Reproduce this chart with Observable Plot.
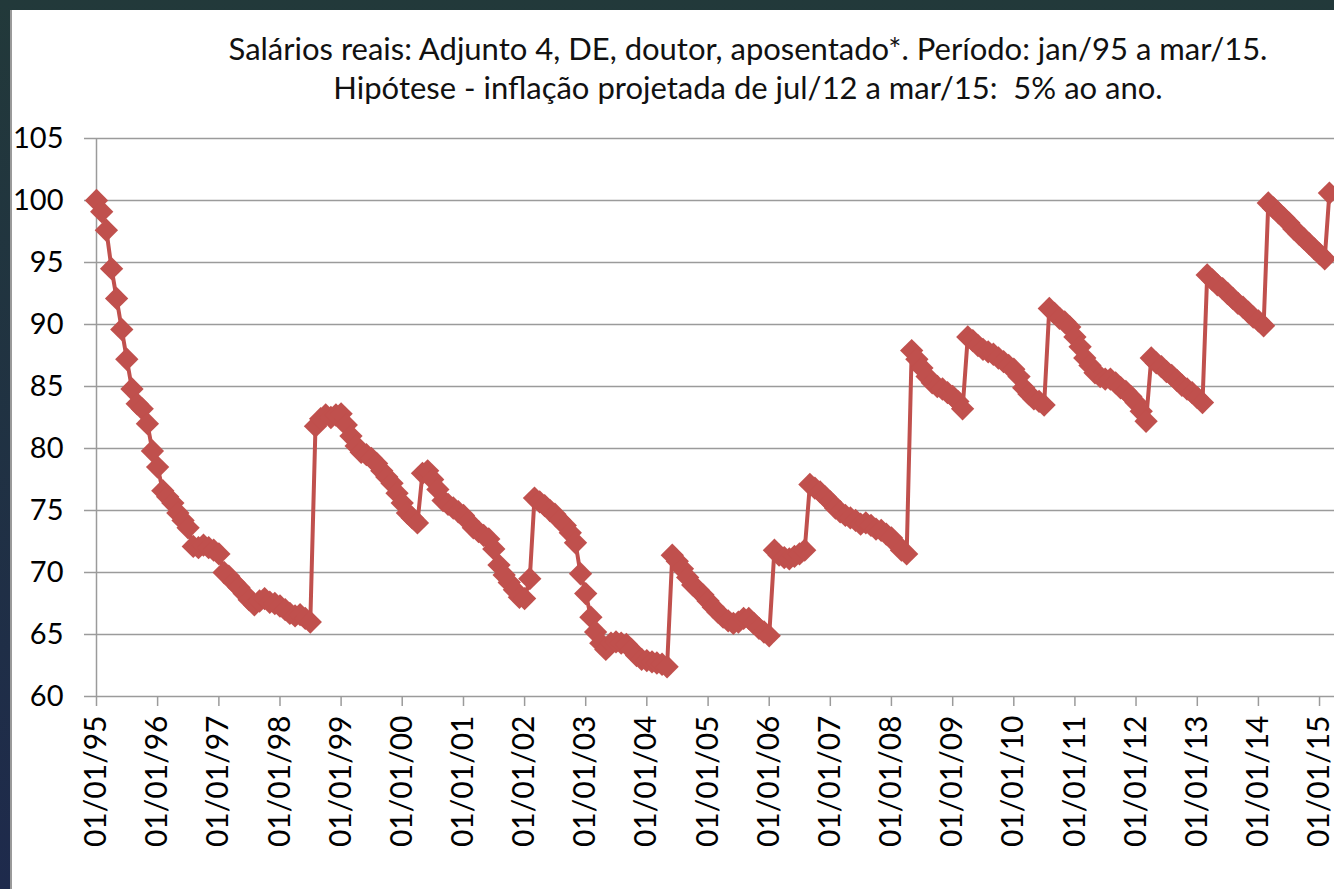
<!DOCTYPE html>
<html><head><meta charset="utf-8">
<script src="https://cdn.jsdelivr.net/npm/d3@7"></script>
<script src="https://cdn.jsdelivr.net/npm/@observablehq/plot@0.6"></script>
<style>
html,body{margin:0;padding:0;overflow:hidden;background:linear-gradient(#22393a,#1e2a4c);width:1334px;height:889px;}
#panel{position:fixed;left:10px;top:10px;right:-50px;bottom:-50px;background:#fff;border-left:2px solid #9a9a9a;}
.t{position:fixed;left:98px;width:1300px;text-align:center;font-family:Lato,"Open Sans",sans-serif;font-size:31px;line-height:39px;color:#111;white-space:pre;}
#chart{position:fixed;left:10px;top:110px;width:1400px;}
#chart svg{max-width:none !important;}
</style></head>
<body>
<div id="panel"></div>
<div class="t" style="top:29px">Salários reais: Adjunto 4, DE, doutor, aposentado*. Período: jan/95 a mar/15.</div>
<div class="t" style="top:68px">Hipótese - inflação projetada de jul/12 a mar/15:  5% ao ano.</div>
<div id="chart"></div>
<script>
// Monthly real-salary index, jan/95 .. mar/15 (jan/95 = 100)
const y1995 = [100.0, 99.1, 97.6, 94.5, 92.1, 89.6, 87.2, 84.8, 83.6, 83.2, 82.0, 79.8];
const y1996 = [78.5, 76.6, 76.1, 75.6, 74.8, 74.2, 73.6, 72.1, 72.0, 72.2, 72.0, 71.8];
const y1997 = [71.5, 70.0, 69.7, 69.2, 68.8, 68.3, 67.8, 67.4, 67.7, 67.9, 67.6, 67.5];
const y1998 = [67.3, 67.0, 66.7, 66.5, 66.6, 66.3, 66.0, 81.8, 82.4, 82.7, 82.5, 82.7];
const y1999 = [82.8, 81.9, 81.0, 80.2, 79.7, 79.5, 79.2, 78.8, 78.2, 77.7, 77.2, 76.4];
const y2000 = [75.6, 74.8, 74.4, 74.0, 78.0, 78.2, 77.5, 76.7, 75.8, 75.5, 75.2, 74.9];
const y2001 = [74.6, 74.1, 73.6, 73.3, 73.0, 72.7, 71.9, 70.6, 69.8, 69.2, 68.6, 68.0];
const y2002 = [67.9, 69.5, 76.0, 75.7, 75.4, 75.0, 74.7, 74.2, 73.8, 73.2, 72.4, 69.9];
const y2003 = [68.3, 66.4, 65.2, 64.3, 63.8, 64.3, 64.4, 64.3, 64.2, 63.8, 63.3, 63.0];
const y2004 = [62.9, 62.8, 62.7, 62.6, 62.4, 71.4, 70.9, 70.3, 69.6, 69.0, 68.6, 68.2];
const y2005 = [67.7, 67.2, 66.8, 66.4, 66.1, 65.9, 66.0, 66.3, 66.3, 65.9, 65.5, 65.2];
const y2006 = [64.9, 71.8, 71.4, 71.2, 71.1, 71.3, 71.5, 71.8, 77.1, 76.8, 76.5, 76.1];
const y2007 = [75.7, 75.2, 74.9, 74.6, 74.4, 74.2, 73.9, 74.0, 73.8, 73.5, 73.4, 73.1];
const y2008 = [72.8, 72.3, 71.8, 71.5, 87.9, 87.2, 86.5, 85.8, 85.3, 85.0, 84.8, 84.5];
const y2009 = [84.2, 83.8, 83.2, 89.0, 88.7, 88.3, 88.0, 87.8, 87.6, 87.3, 87.0, 86.7];
const y2010 = [86.4, 85.8, 84.9, 84.4, 84.0, 83.8, 83.5, 91.3, 90.9, 90.5, 90.2, 89.8];
const y2011 = [89.0, 88.2, 87.3, 86.7, 86.1, 85.8, 85.6, 85.6, 85.3, 84.9, 84.6, 84.2];
const y2012 = [83.7, 83.0, 82.2, 87.3, 86.9, 86.6, 86.2, 85.9, 85.5, 85.1, 84.8, 84.5];
const y2013 = [84.1, 83.7, 94.0, 93.6, 93.2, 92.9, 92.5, 92.1, 91.7, 91.4, 91.0, 90.6];
const y2014 = [90.3, 89.9, 99.8, 99.4, 99.0, 98.6, 98.2, 97.7, 97.3, 96.9, 96.5, 96.1];
const y2015 = [95.7, 95.3, 100.6];
const values = [].concat(y1995,y1996,y1997,y1998,y1999,y2000,y2001,y2002,y2003,y2004,
  y2005,y2006,y2007,y2008,y2009,y2010,y2011,y2012,y2013,y2014,y2015);
const months = d3.utcMonths(new Date(Date.UTC(1995,0,1)), new Date(Date.UTC(2015,3,1)));
const yTicks = [60, 65, 70, 75, 80, 85, 90, 95, 100, 105];
const xTicks = d3.utcYears(new Date(Date.UTC(1995,0,1)), new Date(Date.UTC(2015,1,1)));

const data = months.map((d, i) => ({date: d, value: values[i]}));
const red = "#C0504D", grid = "#9b9b9b";

const chart = Plot.plot({
  width: 1340, height: 779,
  marginLeft: 86, marginRight: 0, marginTop: 28, marginBottom: 193,
  style: {fontFamily: "Lato, 'Open Sans', sans-serif", fontSize: "29px", color: "#000", background: "transparent", overflow: "visible", maxWidth: "none"},
  x: {type: "utc", domain: [new Date(Date.UTC(1995,0,1)), new Date(Date.UTC(2015,6,5))]},
  y: {domain: [60, 105]},
  marks: [
    Plot.gridY(yTicks, {stroke: grid, strokeOpacity: 1, strokeWidth: 1.5}),
    Plot.ruleX([xTicks[0]], {y1: 60, y2: 105, stroke: grid, strokeWidth: 1.5}),
    Plot.axisY(yTicks, {tickSize: 12, tickPadding: 21, stroke: grid, strokeWidth: 1.5, fill: "#000", fontSize: 29, label: null}),
    Plot.axisX(xTicks, {tickFormat: d3.utcFormat("%d/%m/%y"), tickRotate: -90, tickSize: 10, tickPadding: 9,
      stroke: grid, strokeWidth: 1.5, fill: "#000", fontSize: 30, label: null}),
    Plot.line(data, {x: "date", y: "value", stroke: red, strokeWidth: 4}),
    Plot.dot(data, {x: "date", y: "value", symbol: "diamond2", r: 10.5, fill: red, stroke: "none"})
  ]
});
document.getElementById("chart").appendChild(chart);
</script>
</body></html>
